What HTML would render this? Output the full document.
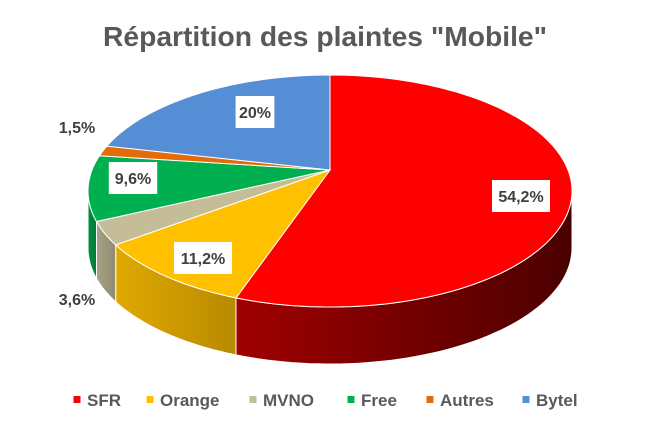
<!DOCTYPE html>
<html><head><meta charset="utf-8"><style>
html,body{margin:0;padding:0;background:#fff;}
svg{display:block;font-family:"Liberation Sans",sans-serif;}
</style></head><body>
<svg id="chart" width="650" height="431" viewBox="0 0 650 431">
<defs>
<linearGradient id="gSFR" x1="0" x2="1" y1="0" y2="0"><stop offset="0" stop-color="#a00000"/><stop offset="1" stop-color="#4a0000"/></linearGradient>
<linearGradient id="gOrange" x1="0" x2="1"><stop offset="0" stop-color="#e0a800"/><stop offset="1" stop-color="#b88a00"/></linearGradient>
<linearGradient id="gMVNO" x1="0" x2="1"><stop offset="0" stop-color="#a8a386"/><stop offset="1" stop-color="#8f8a6e"/></linearGradient>
<linearGradient id="gFree" x1="0" x2="1"><stop offset="0" stop-color="#00903f"/><stop offset="1" stop-color="#007a35"/></linearGradient>
<linearGradient id="gAutres" x1="0" x2="1"><stop offset="0" stop-color="#b85505"/><stop offset="1" stop-color="#a04a04"/></linearGradient>
<linearGradient id="gBytel" x1="0" x2="1"><stop offset="0" stop-color="#3f6fae"/><stop offset="1" stop-color="#36609a"/></linearGradient>
</defs>
<text x="325" y="46" text-anchor="middle" font-size="28" font-weight="bold" fill="#595959" textLength="444" lengthAdjust="spacingAndGlyphs">Répartition des plaintes "Mobile"</text>
<g id="pie"></g>
<g id="labels"></g>
<g id="legend"></g>
</svg>
<script>
const categories = ["SFR","Orange","MVNO","Free","Autres","Bytel"];
const values = [54.2, 11.2, 3.6, 9.6, 1.5, 20];
const valueLabels = ["54,2%","11,2%","3,6%","9,6%","1,5%","20%"];
const colors = ["#ff0000","#ffc000","#c4bd97","#00b050","#e36c09","#558ed5"];
const sideFills = ["url(#gSFR)","url(#gOrange)","url(#gMVNO)","url(#gFree)","url(#gAutres)","url(#gBytel)"];

const NS = "http://www.w3.org/2000/svg";
const cx = 330, cy = 191, rx = 242, ry = 116, ax = 330, ay = 170, depth = 57;
const total = values.reduce((a,b)=>a+b,0);
function warp(deg){ return deg + 8*Math.sin(deg*Math.PI/360); }
function pt(deg, dy){ const r = deg*Math.PI/180; return [cx + rx*Math.sin(r), cy - ry*Math.cos(r) + (dy||0)]; }
function arc(a0,a1,dy){ let d=""; const n=Math.max(2,Math.ceil(Math.abs(a1-a0)/2)); for(let i=0;i<=n;i++){const p=pt(a0+(a1-a0)*i/n,dy); d+=(i?"L":"")+p[0].toFixed(1)+","+p[1].toFixed(1)+" ";} return d; }
const pie = document.getElementById("pie");
const angles = []; let acc = 0;
values.forEach(v=>{ const a0=acc/total*360; acc+=v; angles.push([warp(a0), warp(acc/total*360)]); });
angles.forEach(([a0,a1],i)=>{
  const s=Math.max(a0,90), e=Math.min(a1,270);
  if(e<=s) return;
  const p=document.createElementNS(NS,"path");
  p.setAttribute("d","M"+arc(s,e,0)+"L"+arc(e,s,depth)+"Z");
  p.setAttribute("fill",sideFills[i]); p.setAttribute("stroke","#fff"); p.setAttribute("stroke-width","1");
  
  
  pie.appendChild(p);
});
angles.forEach(([a0,a1],i)=>{
  const p=document.createElementNS(NS,"path");
  p.setAttribute("d","M"+ax+","+ay+" L"+arc(a0,a1,0)+"Z");
  p.setAttribute("fill",colors[i]); p.setAttribute("stroke","#fff"); p.setAttribute("stroke-width","1");
  
  
  pie.appendChild(p);
});
const lg=document.getElementById("labels");
const labelPos=[[521,196,true],[203,258,true],[77,299,false],[133,178,true],[77,127,false],[255,112,true]];
labelPos.forEach(([x,y,box],i)=>{
  const w=valueLabels[i].length*9.6+10;
  if(box){ const r=document.createElementNS(NS,"rect");
    r.setAttribute("x",x-w/2); r.setAttribute("y",y-16); r.setAttribute("width",w); r.setAttribute("height",32); r.setAttribute("fill","#fff");
    
    
    lg.appendChild(r);}
  const t=document.createElementNS(NS,"text");
  t.setAttribute("x",x); t.setAttribute("y",y+6); t.setAttribute("text-anchor","middle");
  t.setAttribute("font-size","16"); t.setAttribute("font-weight","bold"); t.setAttribute("fill","#404040");
  t.textContent=valueLabels[i];
  
  
  lg.appendChild(t);
});
const leg=document.getElementById("legend");
const legX=[77,150,253,351,430,526];
categories.forEach((c,i)=>{
  const g=document.createElementNS(NS,"g");
  
  
  const r=document.createElementNS(NS,"rect");
  r.setAttribute("x",legX[i]-3.5); r.setAttribute("y",396); r.setAttribute("width",7); r.setAttribute("height",7); r.setAttribute("fill",colors[i]);
  
  
  const t=document.createElementNS(NS,"text");
  t.setAttribute("x",legX[i]+10); t.setAttribute("y",406); t.setAttribute("font-size","17"); t.setAttribute("font-weight","bold"); t.setAttribute("fill","#595959");
  t.textContent=c;
  
  
  g.appendChild(r); g.appendChild(t); leg.appendChild(g);
});
</script>
</body></html>
